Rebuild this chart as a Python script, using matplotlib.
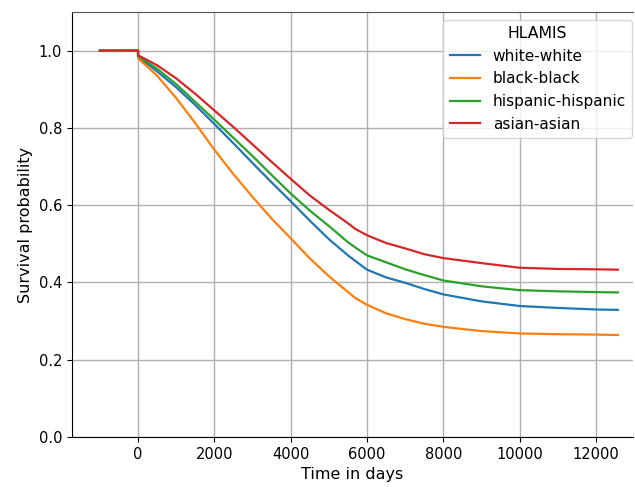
import matplotlib
matplotlib.use("Agg")
import matplotlib.pyplot as plt

# survival curves (time in days)
t = [-1000, 0, 0, 500, 1000, 1500, 2000, 2500, 3000, 3500, 4000, 4500, 5000,
     5500, 5700, 6000, 6500, 7000, 7500, 8000, 9000, 10000, 11000, 12000, 12570]

white = [1.0, 1.0, 0.984, 0.946, 0.905, 0.859, 0.810, 0.760, 0.709, 0.659, 0.610,
         0.560, 0.512, 0.470, 0.455, 0.433, 0.413, 0.399, 0.383, 0.369, 0.351,
         0.339, 0.334, 0.330, 0.329]
black = [1.0, 1.0, 0.980, 0.935, 0.877, 0.812, 0.743, 0.680, 0.621, 0.565, 0.514,
         0.462, 0.416, 0.375, 0.359, 0.342, 0.320, 0.305, 0.293, 0.285, 0.274,
         0.268, 0.266, 0.265, 0.264]
hispanic = [1.0, 1.0, 0.986, 0.953, 0.913, 0.867, 0.821, 0.774, 0.727, 0.678, 0.630,
            0.586, 0.546, 0.504, 0.490, 0.470, 0.452, 0.434, 0.419, 0.405, 0.390,
            0.380, 0.377, 0.375, 0.374]
asian = [1.0, 1.0, 0.988, 0.962, 0.928, 0.888, 0.845, 0.802, 0.757, 0.712, 0.668,
         0.625, 0.588, 0.553, 0.538, 0.522, 0.502, 0.488, 0.473, 0.463, 0.450,
         0.438, 0.435, 0.434, 0.433]

labels = ["white-white", "black-black", "hispanic-hispanic", "asian-asian"]
colors = ["#1f77b4", "#ff7f0e", "#2ca02c", "#d62728"]

fig = plt.figure(figsize=(6.35, 4.87), dpi=100)
ax = fig.add_axes([0.1134, 0.1027, 0.8836, 0.8727])

for ys, lab, c in zip([white, black, hispanic, asian], labels, colors):
    ax.plot(t, ys, color=c, lw=1.6, label=lab)

ax.set_xlim(-1730, 12970)
ax.set_ylim(0, 1.1)
ax.set_xticks(range(0, 12001, 2000))
ax.set_yticks([0.0, 0.2, 0.4, 0.6, 0.8, 1.0])
ax.grid(True, color="#b0b0b0", lw=1.0)
ax.set_axisbelow(True)
ax.spines["right"].set_visible(False)
ax.spines["top"].set_color("#555555")
ax.set_xlabel("Time in days", fontsize=11.5)
ax.set_ylabel("Survival probability", fontsize=11.5)
ax.tick_params(labelsize=10.5)

ax.legend(title="HLAMIS", loc="upper right", bbox_to_anchor=(1.012, 1.0),
          fontsize=11.1, title_fontsize=11.3)

fig.savefig("out.png", dpi=100)
